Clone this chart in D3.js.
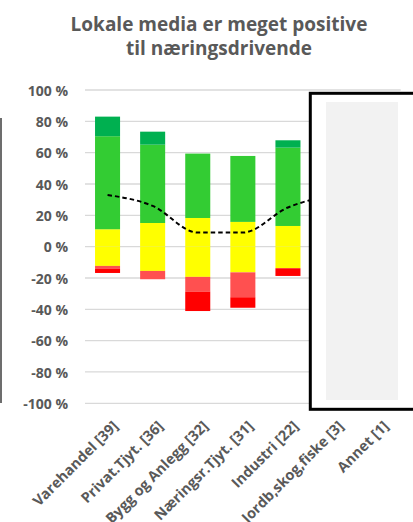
<!DOCTYPE html>
<html><head><meta charset="utf-8">
<script src="https://cdn.jsdelivr.net/npm/d3@7"></script>
<style>body{margin:0;background:#fff}svg{display:block}</style>
</head><body>
<svg id="c" width="413" height="522"></svg>
<script>
const categories = ["Varehandel [39]", "Privat.Tjyt. [36]", "Bygg og Anlegg [32]", "Næringsr.Tjyt. [31]", "Industri [22]", "Jordb,skog,fiske [3]", "Annet [1]"];
const yellowPos = [11.1, 15.1, 18.3, 15.8, 13.2, 0, 0];
const green     = [59.4, 50.0, 41.1, 42.1, 50.0, 0, 0];
const darkGreen = [12.5, 8.3, 0, 0, 4.7, 0, 0];
const yellowNeg = [12.3, 15.5, 19.3, 16.4, 13.8, 0, 0];
const lightRed  = [1.9, 5.3, 9.4, 15.9, 0, 0, 0];
const red       = [2.6, 0, 12.4, 6.7, 4.9, 0, 0];
const lineVals  = [33, 26, 9, 9, 25, 33, null];
const yTicks = [100, 80, 60, 40, 20, 0, -20, -40, -60, -80, -100];
const titleLines = ["Lokale media er meget positive", "til næringsdrivende"];

const svg = d3.select("#c");
const txt = "#595959";
const font = "'Open Sans', sans-serif";

const x = d3.scaleBand().domain(categories).range([85, 400.7]).paddingInner(0.445).paddingOuter(0.2225);
const y = d3.scaleLinear().domain([-100, 100]).range([403.3, 90]);

// title
svg.selectAll("text.title").data(titleLines).join("text")
  .attr("class", "title")
  .attr("x", 219).attr("y", (d, i) => 31 + i * 24)
  .attr("text-anchor", "middle")
  .attr("font-family", font).attr("font-weight", "bold").attr("font-size", 19)
  .attr("fill", txt).text(d => d);

// gridlines
svg.append("g").selectAll("line").data(yTicks).join("line")
  .attr("x1", 85).attr("x2", 400.7)
  .attr("y1", d => y(d)).attr("y2", d => y(d))
  .attr("stroke", "#D9D9D9").attr("stroke-width", 1.3);

// y axis labels
const yAxis = d3.axisLeft(y).tickValues(yTicks).tickSize(0).tickPadding(0).tickFormat(d => d + " %");
const ga = svg.append("g").attr("transform", "translate(68,0)").call(yAxis);
ga.select(".domain").remove();
ga.selectAll("text").attr("font-family", font).attr("font-weight", "bold").attr("font-size", 14).attr("fill", txt).attr("dy", "0.36em");

// stacks
const posSeries = [{v: yellowPos, c: "#FFFF00"}, {v: green, c: "#33CC33"}, {v: darkGreen, c: "#00B050"}];
const negSeries = [{v: yellowNeg, c: "#FFFF00"}, {v: lightRed, c: "#FF5050"}, {v: red, c: "#FF0000"}];
function drawStack(series, sign) {
  const acc = categories.map(() => 0);
  series.forEach(s => {
    const segs = categories.map((cat, i) => {
      const a = acc[i], b = acc[i] + s.v[i];
      acc[i] = b;
      return {cat, a: sign * a, b: sign * b};
    }).filter(d => d.a !== d.b);
    svg.append("g").selectAll("rect").data(segs).join("rect")
      .attr("x", d => x(d.cat)).attr("width", x.bandwidth())
      .attr("y", d => y(Math.max(d.a, d.b)))
      .attr("height", d => Math.abs(y(d.a) - y(d.b)))
      .attr("fill", s.c);
  });
}
drawStack(posSeries, 1);
drawStack(negSeries, -1);

// dashed line
const line = d3.line()
  .defined(d => d.v !== null)
  .x(d => x(d.cat) + x.bandwidth() / 2)
  .y(d => y(d.v))
  .curve(d3.curveMonotoneX);
svg.append("path")
  .datum(categories.map((cat, i) => ({cat, v: lineVals[i]})))
  .attr("d", line).attr("fill", "none").attr("stroke", "#000")
  .attr("stroke-width", 2).attr("stroke-dasharray", "4.5,3");

// x labels
svg.append("g").selectAll("text").data(categories).join("text")
  .attr("transform", d => `translate(${x(d) + x.bandwidth() / 2 + 11.5},${427}) rotate(-45)`)
  .attr("text-anchor", "end")
  .attr("font-family", font).attr("font-weight", "bold").attr("font-size", 14.5)
  .attr("fill", txt).text(d => d);

// left border fragment
svg.append("line").attr("x1", 1).attr("x2", 1).attr("y1", 118).attr("y2", 403)
  .attr("stroke", "#6d6d6d").attr("stroke-width", 2);

// overlay box
svg.append("rect").attr("x", 310.3).attr("y", 93.3).attr("width", 120).attr("height", 316)
  .attr("fill", "#fff").attr("stroke", "#000").attr("stroke-width", 3);
svg.append("rect").attr("x", 326).attr("y", 102).attr("width", 72).attr("height", 298)
  .attr("fill", "#F2F2F2");
</script>
</body></html>
